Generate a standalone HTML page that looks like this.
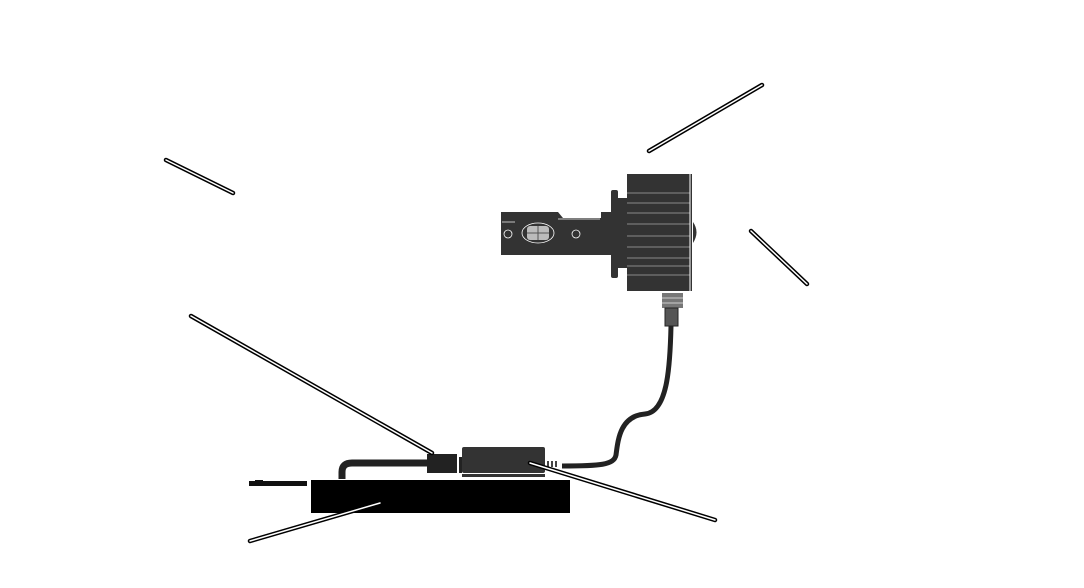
<!DOCTYPE html><html><head><style>body{margin:0;background:#fff}svg{display:block}</style></head><body>
<svg width="1084" height="588" viewBox="0 0 1084 588" xmlns="http://www.w3.org/2000/svg">
<!-- cable bulb to module -->
<path d="M671 326 C670 370 667 412 645 414 C620 416 618 440 616 455 C614 465 600 466 562 466" fill="none" stroke="#222" stroke-width="5"/>
<!-- bulb -->
<path d="M501 212 L558 212 L563 218 L601 218 L601 255 L501 255 Z" fill="#333"/>
<line x1="502" y1="222" x2="515" y2="222" stroke="#fff" stroke-width="0.7"/>
<line x1="558" y1="219" x2="600" y2="219" stroke="#fff" stroke-width="0.7"/>
<circle cx="508" cy="234" r="4" fill="none" stroke="#fff" stroke-width="0.8"/>
<circle cx="576" cy="234" r="4" fill="none" stroke="#fff" stroke-width="0.8"/>
<ellipse cx="538" cy="233" rx="16" ry="10" fill="none" stroke="#fff" stroke-width="0.8"/>
<rect x="527" y="226" width="22" height="14" rx="3" fill="#bbb"/>
<line x1="538" y1="226" x2="538" y2="240" stroke="#555"/><line x1="527" y1="233" x2="549" y2="233" stroke="#555"/>
<rect x="601" y="212" width="10" height="43" fill="#333"/>
<rect x="611" y="190" width="7" height="88" rx="2" fill="#333"/>
<rect x="617" y="198" width="10" height="70" fill="#333"/>
<rect x="627" y="174" width="65" height="117" fill="#333"/>
<g stroke="#888" stroke-width="1">
<line x1="627" y1="193" x2="690" y2="193"/><line x1="627" y1="203" x2="690" y2="203"/><line x1="627" y1="213" x2="690" y2="213"/><line x1="627" y1="224" x2="690" y2="224"/><line x1="627" y1="236" x2="690" y2="236"/><line x1="627" y1="247" x2="690" y2="247"/><line x1="627" y1="258" x2="690" y2="258"/><line x1="627" y1="266" x2="690" y2="266"/><line x1="627" y1="275" x2="690" y2="275"/>
</g>
<line x1="690" y1="174" x2="690" y2="291" stroke="#fff" stroke-width="1"/>
<path d="M693 222 Q700 232 693 243 Z" fill="#333"/>
<rect x="662" y="293" width="21" height="15" fill="#777"/>
<line x1="662" y1="298" x2="683" y2="298" stroke="#ccc"/><line x1="662" y1="303" x2="683" y2="303" stroke="#ccc"/>
<rect x="665" y="308" width="13" height="18" fill="#555" stroke="#222"/>
<!-- bottom assembly -->
<path d="M342 479 L342 472 Q342 463 352 463 L428 463" fill="none" stroke="#222" stroke-width="7"/>
<rect x="249" y="481" width="58" height="5" fill="#111"/>
<rect x="255" y="480" width="8" height="2" fill="#111"/>
<rect x="311" y="480" width="259" height="33" fill="#000"/>
<rect x="427" y="454" width="30" height="19" fill="#222"/>
<rect x="459" y="457" width="3" height="16" fill="#222"/>
<rect x="462" y="447" width="83" height="26" rx="2" fill="#333"/>
<rect x="462" y="474" width="83" height="3" fill="#333"/>
<g fill="#444"><rect x="547" y="461" width="2" height="6"/><rect x="551" y="461" width="2" height="6"/><rect x="555" y="461" width="2" height="6"/></g>
<!-- leader lines -->
<g stroke-linecap="round">
<g stroke="#000" stroke-width="4.5">
<line x1="166" y1="160" x2="233" y2="193"/><line x1="649" y1="151" x2="762" y2="85"/><line x1="751" y1="231" x2="807" y2="284"/><line x1="191" y1="316" x2="432" y2="453"/><line x1="530" y1="463" x2="715" y2="520"/><line x1="250" y1="541" x2="380" y2="503"/>
</g>
<g stroke="#fff" stroke-width="1.5">
<line x1="166" y1="160" x2="233" y2="193"/><line x1="649" y1="151" x2="762" y2="85"/><line x1="751" y1="231" x2="807" y2="284"/><line x1="191" y1="316" x2="432" y2="453"/><line x1="530" y1="463" x2="715" y2="520"/><line x1="250" y1="541" x2="380" y2="503"/>
</g></g>
</svg>
</body></html>
